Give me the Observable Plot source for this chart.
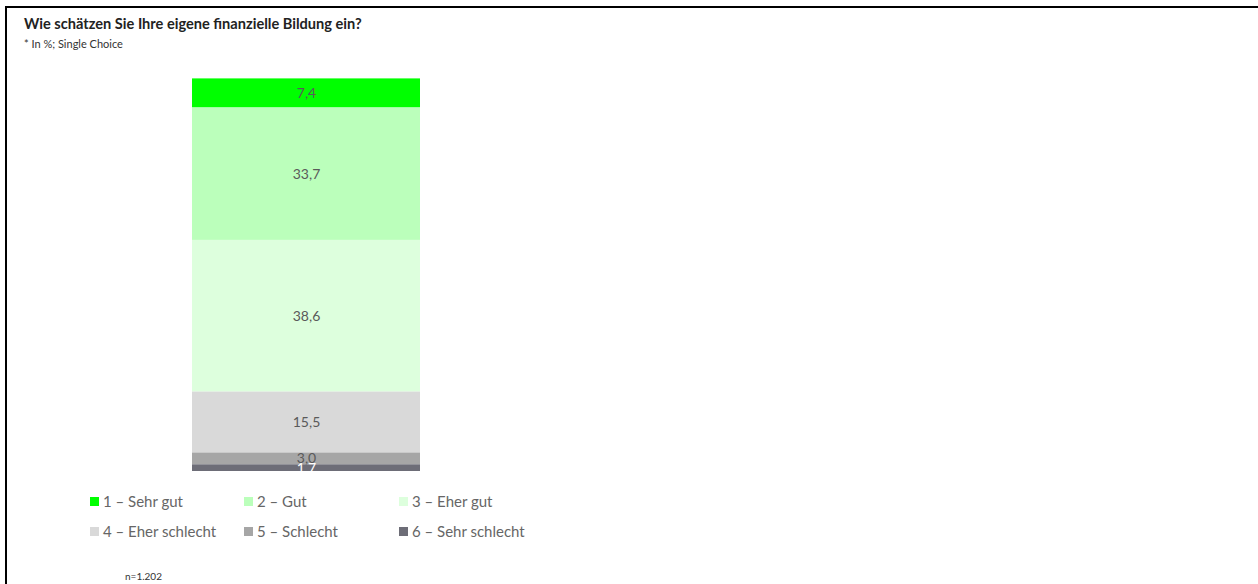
<!DOCTYPE html>
<html>
<head>
<meta charset="utf-8">
<script src="https://cdn.jsdelivr.net/npm/d3@7"></script>
<script src="https://cdn.jsdelivr.net/npm/@observablehq/plot@0.6"></script>
<style>
  html, body { margin: 0; padding: 0; background: #fff; }
  body { width: 1258px; height: 584px; position: relative; overflow: hidden; font-family: "Lato", "Noto Sans", sans-serif; }
  #frame { position: absolute; left: 5px; top: 6px; width: 1300px; height: 700px; border-top: 2px solid #000; border-left: 2px solid #000; box-sizing: border-box; }
  #title { position: absolute; left: 24px; top: 15px; font-size: 14.6px; font-weight: bold; color: #222; white-space: nowrap; }
  #subtitle { position: absolute; left: 24px; top: 37px; font-size: 11px; color: #333; white-space: nowrap; }
  #chart { position: absolute; left: 0; top: 60px; }
  #legend { position: absolute; left: 90px; top: 492px; font-size: 15px; color: #666; }
  .item { position: absolute; white-space: nowrap; display: flex; align-items: center; }
  .sw { width: 9px; height: 9px; display: inline-block; margin-right: 4px; }
  #note { position: absolute; left: 125px; top: 570px; font-size: 10px; color: #333; }
</style>
</head>
<body>
<div id="frame"></div>
<div id="title">Wie schätzen Sie Ihre eigene finanzielle Bildung ein?</div>
<div id="subtitle">* In %; Single Choice</div>
<div id="chart"></div>
<div id="legend"></div>
<div id="note">n=1.202</div>
<script>
const categories = ["1 – Sehr gut", "2 – Gut", "3 – Eher gut", "4 – Eher schlecht", "5 – Schlecht", "6 – Sehr schlecht"];
const values = [7.4, 33.7, 38.6, 15.5, 3.0, 1.7];
const colors = ["#00ff00", "#bbffbb", "#ddffdd", "#d9d9d9", "#a6a6a6", "#6d6d77"];
const labelColors = ["#5a5a5a", "#5a5a5a", "#5a5a5a", "#5a5a5a", "#5a5a5a", "#ffffff"];
const question = "Frage";

const data = categories.map((c, i) => ({q: question, cat: c, value: values[i], lc: labelColors[i]}));
const order = categories.slice().reverse();
const fmt = v => v.toFixed(1).replace(".", ",");

const plot = Plot.plot({
  width: 1258,
  height: 430,
  marginTop: 18,
  marginBottom: 19,
  marginLeft: 0,
  marginRight: 0,
  x: {domain: [question], range: [192, 420], padding: 0, axis: null},
  y: {domain: [0, 100], axis: null},
  color: {domain: categories, range: colors},
  style: {fontFamily: "Lato, 'Noto Sans', sans-serif", background: "transparent"},
  marks: [
    Plot.barY(data, Plot.stackY({x: "q", y: "value", z: "cat", fill: "cat", order, inset: 0})),
    Plot.text(data, Plot.stackY({x: "q", y: "value", z: "cat", order, text: d => fmt(d.value), fill: "lc", fontSize: 14}))
  ]
});
document.getElementById("chart").appendChild(plot);

const legend = document.getElementById("legend");
const colX = [0, 154, 309];
categories.forEach((c, i) => {
  const el = document.createElement("div");
  el.className = "item";
  el.style.left = colX[i % 3] + "px";
  el.style.top = (Math.floor(i / 3) * 30) + "px";
  const sw = document.createElement("span");
  sw.className = "sw";
  sw.style.background = colors[i];
  el.appendChild(sw);
  el.appendChild(document.createTextNode(c));
  legend.appendChild(el);
});
</script>
</body>
</html>
